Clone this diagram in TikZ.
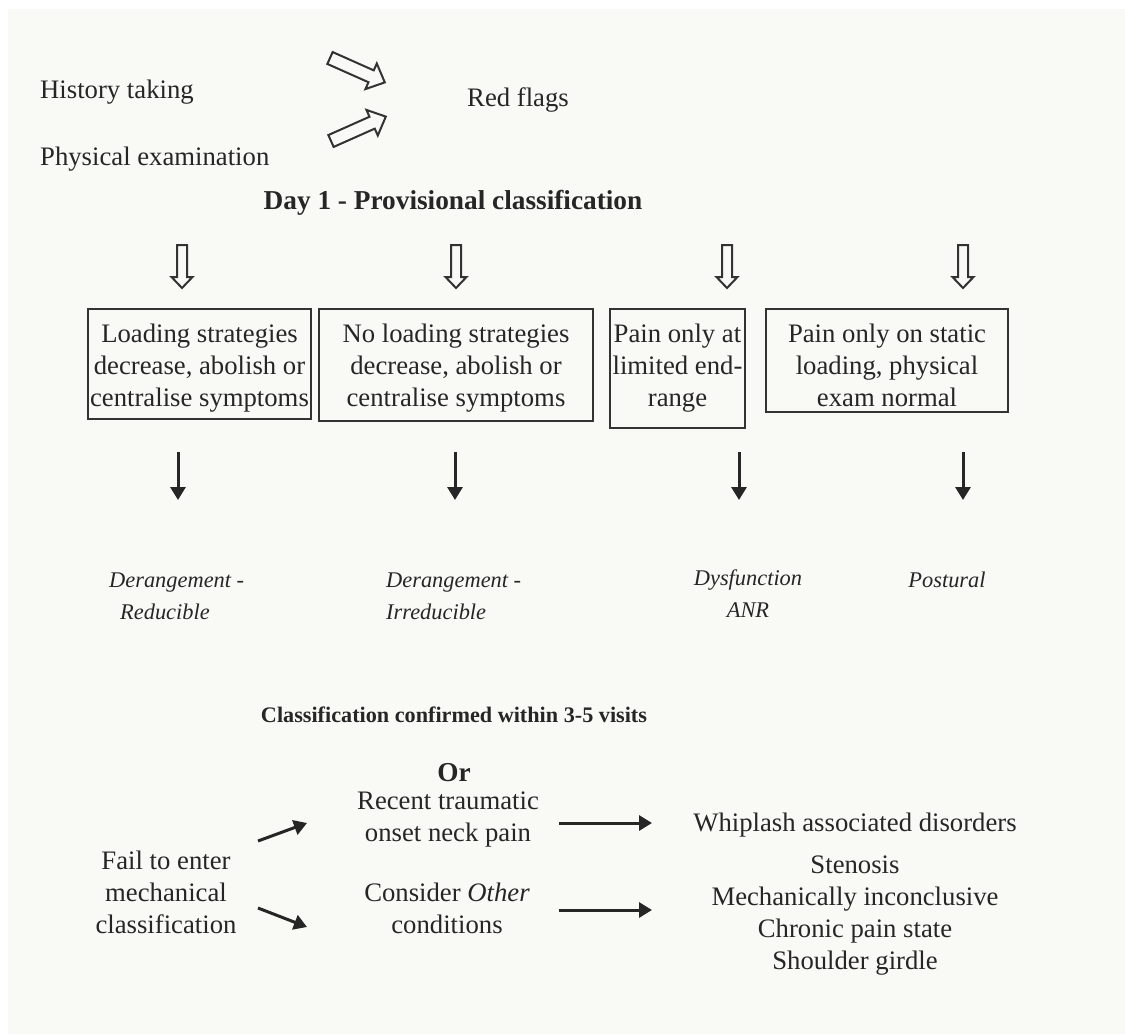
\documentclass[tikz,border=0pt]{standalone}
\usepackage{fontspec}
\setmainfont{Liberation Serif}
\usetikzlibrary{arrows.meta}
\definecolor{paper}{HTML}{F9FAF5}
\definecolor{ink}{HTML}{262626}
\definecolor{edge}{HTML}{333333}
\begin{document}
\begin{tikzpicture}[x=1pt,y=-1pt,
  txt/.style={font=\fontsize{26.7}{32}\selectfont, text=ink, inner sep=0pt,
    align=center, anchor=north, yshift=22.4pt, execute at begin node=\strut},
  bold/.style={txt, font=\fontsize{27.3}{32}\selectfont\bfseries},
  smallbold/.style={txt, font=\fontsize{22.2}{32}\selectfont\bfseries},
  emph/.style={txt, font=\fontsize{22.4}{32}\selectfont\itshape},
  frame/.style={draw=edge, line width=2pt},
  hollowline/.style={draw=edge, line width=2pt, line join=miter},
  solidarrow/.style={draw=ink, line width=3pt,
    -{Triangle[width=15pt,length=13pt]}},
  diagarrow/.pic={\draw[hollowline] (0,-6.5) -- (45,-6.5) -- (45,-14) -- (60,0)
      -- (45,14) -- (45,6.5) -- (0,6.5) -- cycle;},
  downarrow/.pic={\draw[hollowline] (-5,0) -- (5,0) -- (5,32) -- (10.5,32)
      -- (0,43) -- (-10.5,32) -- (-5,32) -- cycle;}
]
% page and paper
\fill[white] (0,0) rectangle (1125,1034);
\fill[paper] (8,9) rectangle (1125,1034);
\useasboundingbox (0,0) rectangle (1125,1034);

% assessment steps
\node[txt, anchor=north west] (hist) at (40,98) {History taking};
\node[txt, anchor=north west] (phys) at (40,165) {Physical examination};
\node[txt] (red) at (518,106) {Red flags};
\pic[rotate=-24] at (330,58) {diagarrow};
\pic[rotate=24] at (331,141) {diagarrow};

\node[bold] (day1) at (453,209) {Day 1 - Provisional classification};

% hollow arrows into the four groups
\pic at (182,245) {downarrow};
\pic at (456,245) {downarrow};
\pic at (727,245) {downarrow};
\pic at (963,245) {downarrow};

% the four groups
\draw[frame] (88,309) rectangle (311,419);
\draw[frame] (319,309) rectangle (593,421);
\draw[frame] (610,309) rectangle (745,428);
\draw[frame] (766,309) rectangle (1008,412);
\node[txt] (g1) at (199.5,346) {Loading strategies\\decrease, abolish or\\centralise symptoms};
\node[txt] (g2) at (456,346) {No loading strategies\\decrease, abolish or\\centralise symptoms};
\node[txt] (g3) at (677.5,346) {Pain only at\\limited end-\\range};
\node[txt] (g4) at (887,346) {Pain only on static\\loading, physical\\exam normal};

% arrows to the classifications
\coordinate (s1) at (178,452); \coordinate (e1) at (178,500);
\coordinate (s2) at (455,452); \coordinate (e2) at (455,500);
\coordinate (s3) at (739,452); \coordinate (e3) at (739,500);
\coordinate (s4) at (963,452); \coordinate (e4) at (963,500);
\draw[solidarrow] (s1) -- (e1);
\draw[solidarrow] (s2) -- (e2);
\draw[solidarrow] (s3) -- (e3);
\draw[solidarrow] (s4) -- (e4);

\node[emph, anchor=north west] (c1a) at (109,587) {Derangement -};
\node[emph, anchor=north west] (c1b) at (120,619) {Reducible};
\node[emph, anchor=north west] (c2a) at (386,587) {Derangement -};
\node[emph, anchor=north west] (c2b) at (386,619) {Irreducible};
\node[emph] (c3) at (748,592) {Dysfunction\\ANR};
\node[emph] (c4) at (947,587) {Postural};

\node[smallbold] (conf) at (454,722) {Classification confirmed within 3-5 visits};
\node[bold] (or) at (454,781) {Or};

% failure to classify
\node[txt] (fail) at (166,873) {Fail to enter\\mechanical\\classification};
\node[txt] (trauma) at (448,814) {Recent traumatic\\onset neck pain};
\node[txt] (other) at (447,905) {Consider \textit{Other}\\conditions};
\node[txt] (wad) at (855,831) {Whiplash associated disorders};
\node[txt] (list) at (855,878) {Stenosis\\Mechanically inconclusive\\Chronic pain state\\Shoulder girdle};

\coordinate (f1) at (258,841); \coordinate (t1) at (307,823);
\coordinate (f2) at (258,908); \coordinate (t2) at (307,927);
\coordinate (f3) at (559,823); \coordinate (t3) at (652,823);
\coordinate (f4) at (559,910); \coordinate (t4) at (652,910);
\draw[solidarrow] (f1) -- (t1);
\draw[solidarrow] (f2) -- (t2);
\draw[solidarrow] (f3) -- (t3);
\draw[solidarrow] (f4) -- (t4);
\end{tikzpicture}
\end{document}
